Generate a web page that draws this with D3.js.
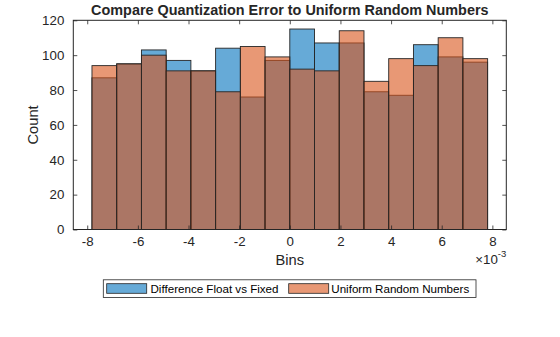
<!DOCTYPE html>
<html>
<head>
<meta charset="utf-8">
<script src="https://cdn.jsdelivr.net/npm/d3@7"></script>
<style>
  html, body { margin: 0; padding: 0; background: #fff; }
  svg { display: block; font-family: "Liberation Sans", Arial, Helvetica, sans-serif; }
</style>
</head>
<body>
<svg id="chart" width="560" height="337"></svg>
<script>
// Histogram bin edges (width 2^-10)
const binEdges = [
  -0.0078125, -0.0068359375, -0.005859375, -0.0048828125,
  -0.00390625, -0.0029296875, -0.001953125, -0.0009765625,
  0, 0.0009765625, 0.001953125, 0.0029296875,
  0.00390625, 0.0048828125, 0.005859375, 0.0068359375, 0.0078125
];

// Counts per bin for each series
const diffCounts = [87, 95, 103, 97, 91, 104, 76, 97, 115, 107, 107, 79, 77, 106, 99, 96];
const uniformCounts = [94, 95, 100, 91, 91, 79, 105, 99, 92, 91, 114, 85, 98, 94, 110, 98];

const seriesNames = ["Difference Float vs Fixed", "Uniform Random Numbers"];
const seriesColors = ["#0072bd", "#d95319"];

const xTicks = [-0.008, -0.006, -0.004, -0.002, 0, 0.002, 0.004, 0.006, 0.008];
const yTicks = [0, 20, 40, 60, 80, 100, 120];

const svg = d3.select("#chart");
const axisColor = "#262626";
const box = { left: 73.3, right: 506.3, top: 20.3, bottom: 229.5 };

const x = d3.scaleLinear().domain([-0.00855, 0.00855]).range([box.left, box.right]);
const y = d3.scaleLinear().domain([0, 120]).range([box.bottom, box.top]);

// Build bin records from edges and counts
function binsFor(counts) {
  return counts.map((c, i) => ({ x0: binEdges[i], x1: binEdges[i + 1], count: c }));
}
const series = [binsFor(diffCounts), binsFor(uniformCounts)];

// Axes background
svg.append("rect")
  .attr("x", box.left).attr("y", box.top)
  .attr("width", box.right - box.left).attr("height", box.bottom - box.top)
  .attr("fill", "#fff");

// Bars: the second series is drawn over the first, both semi-transparent
series.forEach((bins, s) => {
  svg.append("g")
    .selectAll("rect")
    .data(bins)
    .join("rect")
    .attr("x", d => x(d.x0))
    .attr("y", d => y(d.count))
    .attr("width", d => x(d.x1) - x(d.x0))
    .attr("height", d => y(0) - y(d.count))
    .attr("fill", seriesColors[s])
    .attr("fill-opacity", 0.6)
    .attr("stroke", axisColor)
    .attr("stroke-width", 0.9);
});

// Axes with inward ticks on all four sides
const tickLen = 4;
// Tick values shown in units of 1e-3, with a plain hyphen for negatives
const fmtX = d => String(Math.round(d * 1000));

const xAxisB = svg.append("g").attr("transform", `translate(0,${box.bottom})`)
  .call(d3.axisBottom(x).tickValues(xTicks).tickFormat(fmtX).tickSizeInner(-tickLen).tickSizeOuter(0).tickPadding(7));
const xAxisT = svg.append("g").attr("transform", `translate(0,${box.top})`)
  .call(d3.axisTop(x).tickValues(xTicks).tickFormat("").tickSizeInner(-tickLen).tickSizeOuter(0));
const yAxisL = svg.append("g").attr("transform", `translate(${box.left},0)`)
  .call(d3.axisLeft(y).tickValues(yTicks).tickSizeInner(-tickLen).tickSizeOuter(0).tickPadding(9));
const yAxisR = svg.append("g").attr("transform", `translate(${box.right},0)`)
  .call(d3.axisRight(y).tickValues(yTicks).tickFormat("").tickSizeInner(-tickLen).tickSizeOuter(0));

[xAxisB, xAxisT, yAxisL, yAxisR].forEach(g => {
  g.select(".domain").remove();
  g.selectAll(".tick line").attr("stroke", axisColor).attr("stroke-width", 0.8);
  g.selectAll(".tick text").attr("fill", axisColor).attr("font-size", 13.3)
    .attr("font-family", "Liberation Sans, Arial, sans-serif");
});

// Axes box
svg.append("rect")
  .attr("x", box.left).attr("y", box.top)
  .attr("width", box.right - box.left).attr("height", box.bottom - box.top)
  .attr("fill", "none").attr("stroke", axisColor).attr("stroke-width", 1);

// Exponent label for the x axis
const expLabel = svg.append("text")
  .attr("x", box.right).attr("y", 263.5)
  .attr("text-anchor", "end").attr("fill", axisColor).attr("font-size", 13.3);
expLabel.append("tspan").text("×10");
expLabel.append("tspan").attr("dy", -7).attr("font-size", 9.5).text("-3");

// Axis labels and title
svg.append("text")
  .attr("x", (box.left + box.right) / 2).attr("y", 265)
  .attr("text-anchor", "middle").attr("fill", axisColor).attr("font-size", 14.7)
  .text("Bins");

svg.append("text")
  .attr("transform", `translate(38,${(box.top + box.bottom) / 2}) rotate(-90)`)
  .attr("text-anchor", "middle").attr("fill", axisColor).attr("font-size", 14.7)
  .text("Count");

svg.append("text")
  .attr("x", (box.left + box.right) / 2).attr("y", 15)
  .attr("text-anchor", "middle").attr("fill", axisColor).attr("font-size", 14.4)
  .attr("font-weight", "bold")
  .text("Compare Quantization Error to Uniform Random Numbers");

// Legend
const legend = svg.append("g");
legend.append("rect")
  .attr("x", 103.3).attr("y", 279.8).attr("width", 372.7).attr("height", 17.6)
  .attr("fill", "#fff").attr("stroke", axisColor).attr("stroke-width", 0.8);

const legendItems = [
  { name: seriesNames[0], color: seriesColors[0], px: 106.7, tx: 150.5 },
  { name: seriesNames[1], color: seriesColors[1], px: 288.7, tx: 331.3 }
];
legendItems.forEach(it => {
  legend.append("rect")
    .attr("x", it.px).attr("y", 283.7).attr("width", 40).attr("height", 9.6)
    .attr("fill", it.color).attr("fill-opacity", 0.6)
    .attr("stroke", axisColor).attr("stroke-width", 0.8);
  legend.append("text")
    .attr("x", it.tx).attr("y", 293.2)
    .attr("fill", "#000").attr("font-size", 11.6)
    .text(it.name);
});
</script>
</body>
</html>
